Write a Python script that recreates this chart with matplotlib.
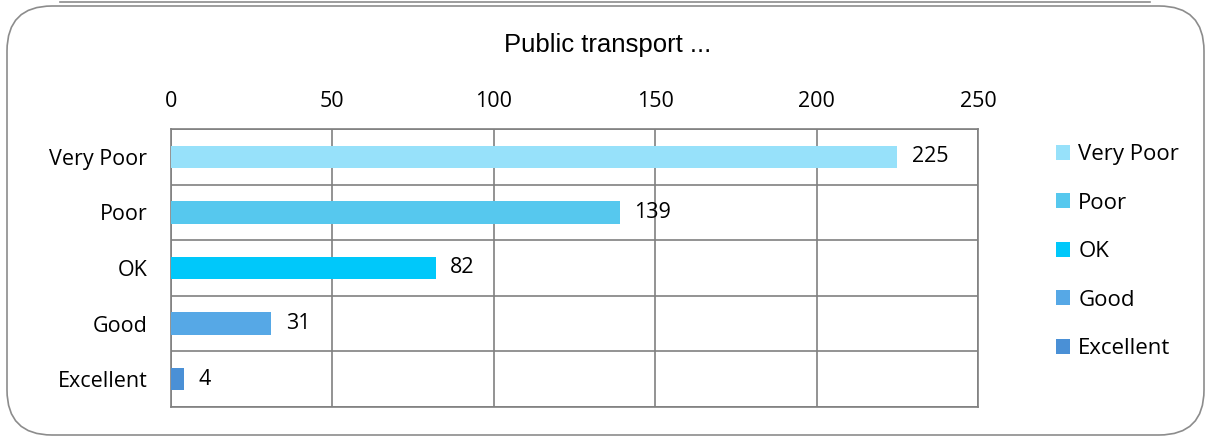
import matplotlib
matplotlib.use("Agg")
import matplotlib.pyplot as plt
from matplotlib.patches import FancyBboxPatch, Patch

categories = ["Very Poor", "Poor", "OK", "Good", "Excellent"]
values = [225, 139, 82, 31, 4]
colors = ["#97E1FA", "#56C8EE", "#00C8FA", "#56A8E6", "#4A90D6"]
ticks = [0, 50, 100, 150, 200, 250]
title = "Public transport ..."

plt.rcParams['font.family'] = ['Open Sans', 'DejaVu Sans']
FS = 15.5

fig = plt.figure(figsize=(12.09, 4.37), dpi=100)

W, H = 1209, 437
frame = FancyBboxPatch((7/W, 2/H), (1204-7)/W, (431-2)/H,
                       boxstyle="round,pad=0,rounding_size=%f" % (45/W),
                       transform=fig.transFigure, fill=False,
                       edgecolor="#8c8c8c", linewidth=1.2,
                       mutation_aspect=W/H)
fig.patches.append(frame)
fig.add_artist(plt.Line2D([60/W, 1150/W], [1-2/H, 1-2/H],
                          transform=fig.transFigure, color="#8c8c8c", lw=1.2))

ax = fig.add_axes([171/W, 1-407/H, (978-171)/W, (407-129)/H])
y = list(range(len(categories)))
ax.barh(y, values, height=0.4, color=colors, zorder=3)
for yi, v in zip(y, values):
    ax.text(v + 4.5, yi, str(v), va="center", ha="left", fontsize=FS, color="black", zorder=4)

ax.set_xlim(0, 250)
ax.set_ylim(len(categories) - 0.5, -0.5)
ax.set_xticks(ticks)
ax.set_yticks(y)
ax.set_yticklabels(categories, fontsize=FS)
ax.xaxis.tick_top()
ax.tick_params(axis="x", labelsize=FS, length=0, pad=12)
ax.tick_params(axis="y", length=0, pad=17)
ax.set_yticks([i + 0.5 for i in range(-1, len(categories))], minor=True)
ax.grid(True, axis="x", color="#808080", lw=1.2, zorder=1)
ax.grid(True, axis="y", which="minor", color="#808080", lw=1.2, zorder=1)
ax.tick_params(axis="y", which="minor", length=0)
for s in ax.spines.values():
    s.set_color("#808080")
    s.set_linewidth(1.2)

fig.text(608/W, 1-45/H, title, ha="center", va="center", fontsize=18.5,
         family=['Liberation Sans', 'DejaVu Sans'])

handles = [Patch(facecolor=c, edgecolor="none") for c in colors]
fig.legend(handles, categories, loc="upper left", bbox_to_anchor=(1036/W, 1-124/H),
           frameon=False, fontsize=16, handlelength=0.65, handleheight=0.65,
           handletextpad=0.35, labelspacing=1.24)

fig.savefig("out.png", dpi=100)
